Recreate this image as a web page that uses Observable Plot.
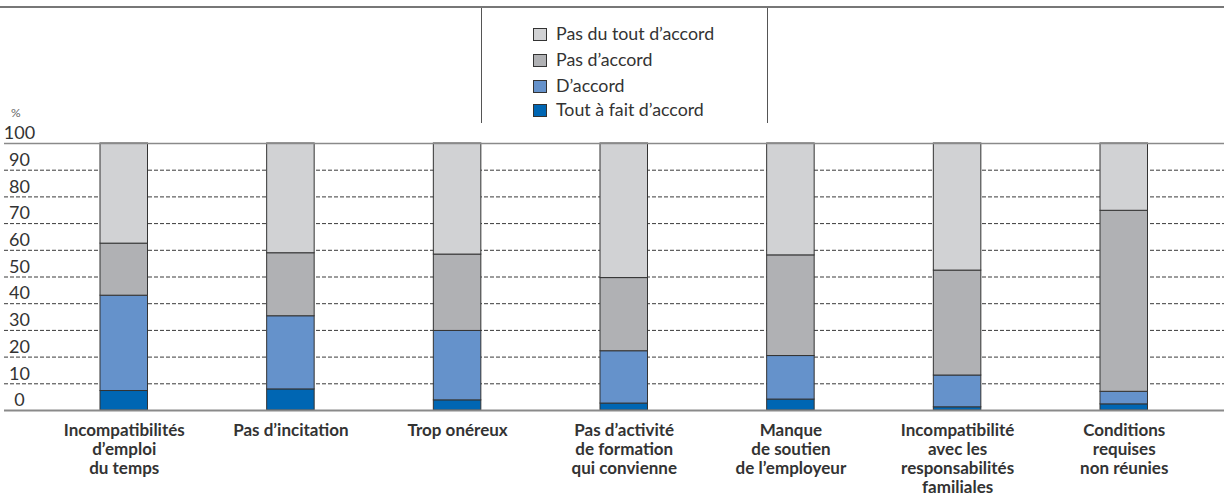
<!DOCTYPE html>
<html><head><meta charset="utf-8">
<script src="https://cdn.jsdelivr.net/npm/d3@7"></script>
<script src="https://cdn.jsdelivr.net/npm/@observablehq/plot@0.6"></script>
<style>
body{margin:0;background:#fff;font-family:Lato,"Open Sans",sans-serif;}
#wrap{position:relative;width:1224px;height:498px;overflow:hidden;}
#head{position:relative;height:124px;}
#topline{position:absolute;left:0;top:6px;width:1224px;height:2px;background:#777;}
.vline{position:absolute;top:8px;width:1px;height:115px;background:#555;}
.item{position:absolute;left:533px;font-size:17.8px;color:#333;white-space:nowrap;line-height:1;}
.sw{position:absolute;left:0;width:12px;height:11px;border:1px solid #333;}
.lab{position:absolute;left:23px;}
#pct{position:absolute;left:11px;top:105px;font-size:12px;color:#666;}
</style></head>
<body><div id="wrap"><div id="head"><div id="topline"></div><div class="vline" style="left:481px"></div><div class="vline" style="left:767px"></div><div id="pct">%</div></div><div id="chart"></div></div>
<script>
const categories = ["Incompatibilités d'emploi du temps","Pas d'incitation","Trop onéreux","Pas d'activité de formation qui convienne","Manque de soutien de l'employeur","Incompatibilité avec les responsabilités familiales","Conditions requises non réunies"];
const categoryLabels = ["Incompatibilités\nd’emploi\ndu temps","Pas d’incitation","Trop onéreux","Pas d’activité\nde formation\nqui convienne","Manque\nde soutien\nde l’employeur","Incompatibilité\navec les\nresponsabilités\nfamiliales","Conditions\nrequises\nnon réunies"];
const series = ["Tout à fait d’accord","D’accord","Pas d’accord","Pas du tout d’accord"];
const colors = ["#0066b3","#6592cb","#b0b1b4","#d1d2d4"];
const toutAFait = [7.3, 7.9, 3.8, 2.6, 4.1, 1.2, 2.3];
const dAccord = [35.7, 27.4, 26.0, 19.6, 16.3, 11.9, 4.7];
const pasDAccord = [19.5, 23.6, 28.6, 27.4, 37.7, 39.3, 67.8];
const pasDuTout = [37.5, 41.1, 41.6, 50.4, 41.9, 47.6, 25.2];
const yTicks = [0,10,20,30,40,50,60,70,80,90,100];
const gridTicks = [10,20,30,40,50,60,70,80,90];

const valuesBySeries = [toutAFait, dAccord, pasDAccord, pasDuTout];
const data = [];
series.forEach((s, j) => categories.forEach((c, i) => data.push({cat: c, series: s, value: valuesBySeries[j][i]})));
const labelOf = new Map(categories.map((c, i) => [c, categoryLabels[i]]));

// legend (HTML, above the svg)
const head = d3.select("#head");
const legendTops = [28, 54, 80, 104];
series.slice().reverse().forEach((s, k) => {
  const it = head.append("div").attr("class", "item").style("top", legendTops[k] + "px");
  it.append("div").attr("class", "sw").style("top", "0px").style("background", colors[series.indexOf(s)]);
  it.append("div").attr("class", "lab").style("top", "-3px").text(s);
});

const chart = Plot.plot({
  width: 1224,
  height: 374,
  marginLeft: 4,
  marginRight: 0,
  marginTop: 19,
  marginBottom: 88,
  style: {fontFamily: "Lato, 'Open Sans', sans-serif", color: "#333", background: "#fff", overflow: "visible"},
  x: {type: "band", domain: categories, paddingInner: 0.715, paddingOuter: 0.5175, align: 0.5565, round: false, label: null},
  y: {domain: [0, 100], label: null},
  color: {domain: series, range: colors},
  marks: [
    Plot.ruleY(gridTicks, {stroke: "#3a3a3a", strokeWidth: 1, strokeDasharray: "4,2"}),
    Plot.barY(data, {x: "cat", y: "value", fill: "series", order: series, stroke: "#333", strokeWidth: 1}),
    Plot.ruleY([100], {stroke: "#8a8a8a", strokeWidth: 1.5}),
    Plot.ruleY([0], {stroke: "#8a8a8a", strokeWidth: 2}),
    Plot.axisY({ticks: yTicks, tickSize: 0, tickPadding: 3, textAnchor: "middle", dx: 18, dy: -10, fontSize: 18, fill: "#333", label: null, tickFormat: d => String(d)}),
    Plot.axisX({tickSize: 0, tickPadding: 12, fontSize: 17, fontWeight: "bold", lineHeight: 1.12, fill: "#333", label: null, tickFormat: d => labelOf.get(d)})
  ]
});
document.getElementById("chart").appendChild(chart);
</script>
</body></html>
